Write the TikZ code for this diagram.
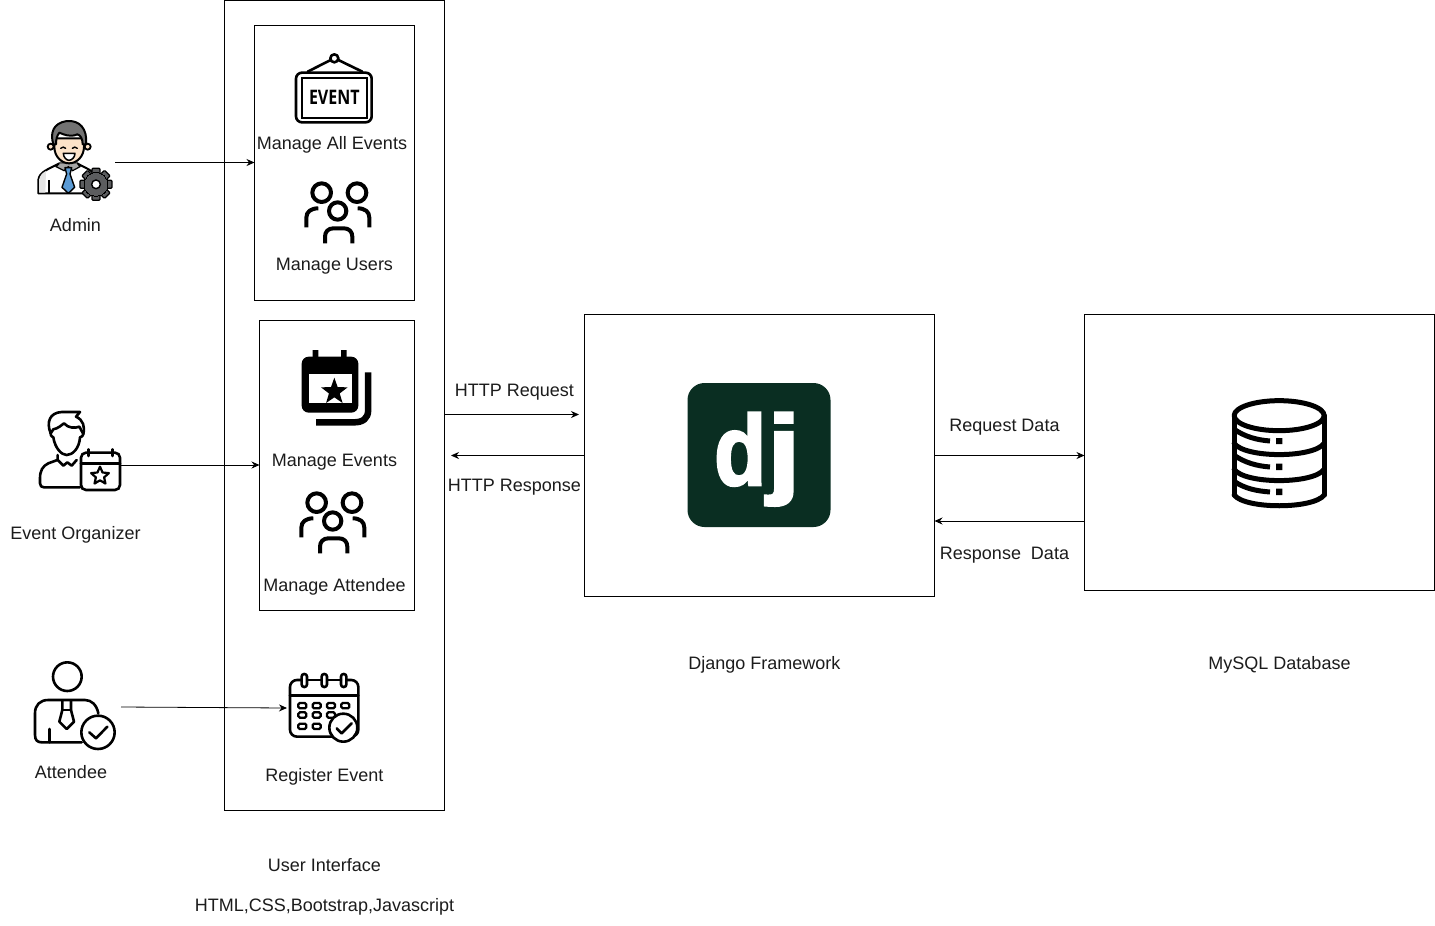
\documentclass[tikz,border=0pt]{standalone}
\usepackage{graphicx}
\usepackage{fontspec}
\setmainfont{Liberation Sans}
\newfontfamily\evfont{Open Sans}
\newfontfamily\djfont[FakeBold=2.5]{Liberation Sans}
\usetikzlibrary{arrows.meta,calc}
\definecolor{ink}{HTML}{1C1C1C}
\definecolor{djgreen}{HTML}{0A2E22}
\definecolor{hair}{HTML}{727272}
\definecolor{skin}{HTML}{FCE3C9}
\definecolor{tieblue}{HTML}{5B9BD5}
\definecolor{gearg}{HTML}{5C5D5F}
\tikzset{
  x=1pt,y=-1pt,
  boxn/.style={draw=black,line width=0.9pt,fill=none,rectangle,inner sep=0,outer sep=0},
  lbl/.style={anchor=base,inner sep=0,outer sep=0,text=ink,font=\fontsize{18}{20}\selectfont},
  arr/.style={draw=black,line width=0.8pt,-{Stealth[length=8pt,width=7pt]}},
  ic/.style={draw=black,line width=2.6pt,line cap=round,line join=round},
  db/.style={draw=black,line width=5pt,line cap=round,line join=round},
  ppl/.style={draw=black,line width=4pt,line join=round},
}
\newcommand{\peopleicon}[2]{%
  \begin{scope}[shift={(#1,#2)},scale=1/3]
    \draw[ppl] (80,53) circle (28) (186,53) circle (28) (128,108) circle (26);
    \draw[ppl] (34,157) -- (34,128) .. controls (34,110) and (48,100) .. (70,100);
    \draw[ppl] (223,157) -- (223,128) .. controls (223,110) and (210,100) .. (188,100);
    \draw[ppl] (90,205) -- (90,185) .. controls (90,170) and (100,160) .. (115,160) -- (147,160) .. controls (162,160) and (172,170) .. (172,185) -- (172,205);
  \end{scope}}
\begin{document}
\begin{tikzpicture}
\useasboundingbox (0,0) rectangle (1435,926);
\fill[white] (0,0) rectangle (1435,926);

% boxes
\node[boxn,minimum width=220pt,minimum height=810pt] (ui) at (334.5,405) {};
\node[boxn,minimum width=160pt,minimum height=275.5pt] (adminbox) at (334.5,162.75) {};
\node[boxn,minimum width=155pt,minimum height=290pt] (orgbox) at (337,465.5) {};
\node[boxn,minimum width=350pt,minimum height=282pt] (django) at (759.5,455.5) {};
\node[boxn,minimum width=350pt,minimum height=276pt] (mysql) at (1259.5,452.5) {};

% admin icon
\begin{scope}[shift={(20,100)},scale=1/3]
  \path[fill=white,draw=black,line width=2pt,line join=round] (55,280) -- (55,240) .. controls (58,215) and (85,208) .. (118,190) -- (172,190) .. controls (195,205) and (225,210) .. (232,240) -- (232,280) -- cycle;
  \fill[black!10] (57,278) -- (57,240) .. controls (60,225) and (68,218) .. (78,213) -- (76,278) -- cycle;
  \fill[gray!70!white] (118,190) -- (172,190) -- (180,200) -- (158,212) -- (145,200) -- (132,212) -- (108,200) -- cycle;
  \draw[black,line width=1.2pt] (118,190) -- (108,200) -- (132,212) -- (145,200) -- (158,212) -- (180,200) -- (172,190);
  \draw[black,line width=1.8pt] (88,240) -- (88,280);
  \path[fill=tieblue,draw=black,line width=1.4pt,line join=round] (135,203) -- (155,203) -- (150,222) -- (164,262) -- (145,280) -- (126,262) -- (140,222) -- cycle;
  \path[fill=skin,draw=black,line width=1.8pt] (92,140) circle (9) (203,140) circle (9);
  \path[fill=skin,draw=black,line width=2pt] (103,115) -- (103,140) .. controls (103,170) and (125,190) .. (147,190) .. controls (170,190) and (192,170) .. (192,140) -- (192,115) -- cycle;
  \path[fill=hair,draw=black,line width=2pt,line join=round] (100,133) .. controls (90,100) and (98,70) .. (140,63) .. controls (178,60) and (203,85) .. (198,133) -- (188,133) .. controls (188,118) and (182,105) .. (172,103) .. controls (150,113) and (130,103) .. (118,98) .. controls (110,108) and (108,120) .. (108,133) -- cycle;
  \draw[black,line width=1.4pt,line cap=round] (122,145) .. controls (127,140) and (132,140) .. (137,145);
  \draw[black,line width=1.4pt,line cap=round] (157,145) .. controls (162,140) and (167,140) .. (172,145);
  \path[fill=white,draw=black,line width=1.5pt,line join=round] (130,160) -- (165,160) .. controls (165,172) and (155,181) .. (147,181) .. controls (140,181) and (130,172) .. (130,160) -- cycle;
  \foreach \a in {0,45,...,315}{
    \fill[gearg,draw=black,line width=1.2pt,rounded corners=1pt,rotate around={\a:(228,253)}] (216,205) rectangle (240,228);
  }
  \path[fill=gearg,draw=black,line width=0pt] (228,253) circle (36);
  \path[fill=white,draw=black,line width=1.4pt] (228,253) circle (13);
\end{scope}

% organizer icon
\begin{scope}[shift={(20,400)},scale=1/3]
  \draw[ic] (92,100) .. controls (78,65) and (90,38) .. (125,36) -- (180,36) -- (168,50) .. controls (190,60) and (195,80) .. (190,102);
  \draw[ic] (92,100) -- (100,88) .. controls (115,85) and (125,75) .. (132,70) .. controls (145,85) and (165,85) .. (178,80) -- (190,102);
  \draw[ic] (92,100) .. controls (92,110) and (98,110) .. (100,112) .. controls (105,145) and (125,165) .. (140,165) .. controls (158,165) and (178,145) .. (180,112) .. controls (185,110) and (190,108) .. (190,102);
  \draw[ic] (113,165) -- (113,180) -- (130,197) -- (142,187) -- (155,197) -- (170,180);
  \draw[ic] (112,180) -- (85,190) .. controls (68,198) and (60,212) .. (60,235) -- (60,250) .. controls (60,258) and (65,262) .. (72,262) -- (180,262);
  \path[fill=white,draw=black,line width=2.6pt,rounded corners=5pt] (183,158) rectangle (300,270);
  \draw[ic] (183,190) -- (300,190);
  \draw[ic] (205,148) -- (205,168) (278,148) -- (278,168);
  \draw[black,line width=2.2pt,line join=round] ($(240,228)+(-90:28)$)
    -- ($(240,228)+(-54:13)$) -- ($(240,228)+(-18:28)$) -- ($(240,228)+(18:13)$)
    -- ($(240,228)+(54:28)$) -- ($(240,228)+(90:13)$) -- ($(240,228)+(126:28)$)
    -- ($(240,228)+(162:13)$) -- ($(240,228)+(198:28)$) -- ($(240,228)+(234:13)$) -- cycle;
\end{scope}

% attendee icon
\begin{scope}[shift={(20,655)},scale=1/3]
  \draw[ic] (142,65) circle (43);
  \draw[ic] (235,175) .. controls (230,150) and (215,135) .. (195,135) -- (85,135) .. controls (60,135) and (45,150) .. (45,175) -- (45,240) .. controls (45,255) and (52,262) .. (65,262) -- (185,262);
  \draw[ic] (88,222) -- (88,262);
  \draw[ic] (127,137) -- (127,165) -- (118,200) -- (140,222) -- (162,200) -- (153,165) -- (153,137);
  \draw[ic] (127,165) -- (153,165);
  \path[fill=white,draw=black,line width=2.6pt] (234,232) circle (50);
  \draw[ic] (208,232) -- (228,250) -- (262,215);
\end{scope}

% EVENT sign
\begin{scope}[shift={(285,45)},scale=1/3]
  \draw[ic] (68,80) -- (137,45) (160,45) -- (232,80);
  \draw[ic] (148,40) circle (12);
  \draw[black,line width=2.6pt,rounded corners=6pt] (33,83) rectangle (260,232);
  \draw[black,line width=2pt] (50,98) rectangle (245,218);
  \node[inner sep=0,text=black,font=\evfont\bfseries\fontsize{20}{20}\selectfont] (evtxt) at (148,156) {\scalebox{0.8}[1]{EVENT}};
\end{scope}

\peopleicon{295}{175}
\peopleicon{290}{485}

% calendar with star
\begin{scope}[shift={(290,340)},scale=1/3]
  \fill[black] (68,30) rectangle (85,60) (153,30) rectangle (170,60);
  \fill[black,rounded corners=7pt] (35,50) rectangle (205,218);
  \fill[white] (57,102) rectangle (187,190);
  \fill[black] ($(133,155)+(-90:42)$)
    -- ($(133,155)+(-54:17)$) -- ($(133,155)+(-18:42)$) -- ($(133,155)+(18:17)$)
    -- ($(133,155)+(54:42)$) -- ($(133,155)+(90:17)$) -- ($(133,155)+(126:42)$)
    -- ($(133,155)+(162:17)$) -- ($(133,155)+(198:42)$) -- ($(133,155)+(234:17)$) -- cycle;
  \draw[black,line width=6.5pt] (234.5,97) -- (234.5,210) .. controls (234.5,236) and (218,247) .. (192,247) -- (78,247);
\end{scope}

% calendar with check
\begin{scope}[shift={(280,665)},scale=1/3]
  \draw[ic,rounded corners=7pt] (65,45) -- (30,45) -- (30,215) -- (235,215) -- (235,45) -- (200,45);
  \draw[ic] (82,45) -- (125,45) (142,45) -- (183,45);
  \draw[ic] (30,92) -- (235,92);
  \foreach \cx in {73,133,191}{
    \draw[ic,rounded corners=2.5pt] (\cx-8,27) rectangle (\cx+8,66);
  }
  \foreach \cx/\cy in {67/122,110/122,153/122,196/122,67/150,110/150,153/150,67/184,110/184}{
    \draw[black,line width=2.3pt,rounded corners=1.5pt] (\cx-12,\cy-8) rectangle (\cx+12,\cy+8);
  }
  \path[fill=white,draw=black,line width=2.6pt] (190,188) circle (42);
  \draw[ic] (170,190) -- (185,205) -- (215,175);
\end{scope}

% django logo
\node[fill=djgreen,rounded corners=17pt,minimum width=143pt,minimum height=144pt,inner sep=0] (djlogo) at (759,455) {};
\node[inner sep=0,text=white,font=\djfont\bfseries\fontsize{100}{100}\selectfont,anchor=base west] (djd) at (714,485) {\scalebox{0.85}[1]{d}};
\node[inner sep=0,text=white,font=\djfont\bfseries\fontsize{100}{100}\selectfont,anchor=base west] (djj) at (767,485) {\scalebox{1.2}[1]{j}};

% database icon
\begin{scope}[shift={(1220,390)},scale=1/3]
  \draw[db] (177.5,77) ellipse (135 and 45);
  \draw[db] (42.5,77) -- (42.5,315) (312.5,77) -- (312.5,315);
  \draw[db] (42.5,160) .. controls (75,205) and (280,205) .. (312.5,160);
  \draw[db] (42.5,238) .. controls (75,283) and (280,283) .. (312.5,238);
  \draw[db] (42.5,315) .. controls (75,358) and (280,358) .. (312.5,315);
  \draw[db,line cap=butt] (42.5,118) .. controls (75,140) and (110,150) .. (150,153);
  \draw[db,line cap=butt] (42.5,196) .. controls (75,218) and (110,228) .. (150,231);
  \draw[db,line cap=butt] (42.5,274) .. controls (75,296) and (110,303) .. (150,306);
  \fill[black] (168,144) rectangle (187,162) (168,221) rectangle (187,240) (168,296) rectangle (187,315);
\end{scope}

% labels
\node[lbl] (tadmin) at (75.5,231) {Admin};
\node[lbl] (torg) at (75.5,539) {Event Organizer};
\node[lbl] (tatt) at (71,778) {Attendee};
\node[lbl] (tmall) at (332,149) {Manage All Events};
\node[lbl] (tmusers) at (334.5,270) {Manage Users};
\node[lbl] (tmev) at (334.5,466) {Manage Events};
\node[lbl] (tmatt) at (334.5,591) {Manage Attendee};
\node[lbl] (treg) at (324.5,781) {Register Event};
\node[lbl] (tui) at (324.5,871) {User Interface};
\node[lbl] (thtml) at (324.5,911) {HTML,CSS,Bootstrap,Javascript};
\node[lbl] (treq) at (514.5,396) {HTTP Request};
\node[lbl] (tres) at (514.5,491) {HTTP Response};
\node[lbl] (trd) at (1004.5,431) {Request Data};
\node[lbl] (trsd) at (1004.5,559) {Response\ \ Data};
\node[lbl] (tdj) at (764.5,669) {Django Framework};
\node[lbl] (tdb) at (1279.5,669) {MySQL Database};

% connector ends
\coordinate (adminout) at (115,162.5);
\coordinate (orgout) at (121,465);
\coordinate (attout) at (121,707);
\coordinate (calin) at (287,708);
\coordinate (reqtip) at (579,414.5);
\coordinate (restip) at (451,455.5);
\coordinate (dbtip) at (935,521);

\draw[arr] (adminout) -- (adminout -| adminbox.west);
\draw[arr] (orgout) -- (orgout -| orgbox.west);
\draw[arr] (attout) -- (calin);
\draw[arr] (ui.east |- reqtip) -- (reqtip);
\draw[arr] (django.west |- restip) -- (restip);
\draw[arr] (django.east |- restip) -- (mysql.west |- restip);
\draw[arr] (mysql.west |- dbtip) -- (django.east |- dbtip);
\end{tikzpicture}
\end{document}
